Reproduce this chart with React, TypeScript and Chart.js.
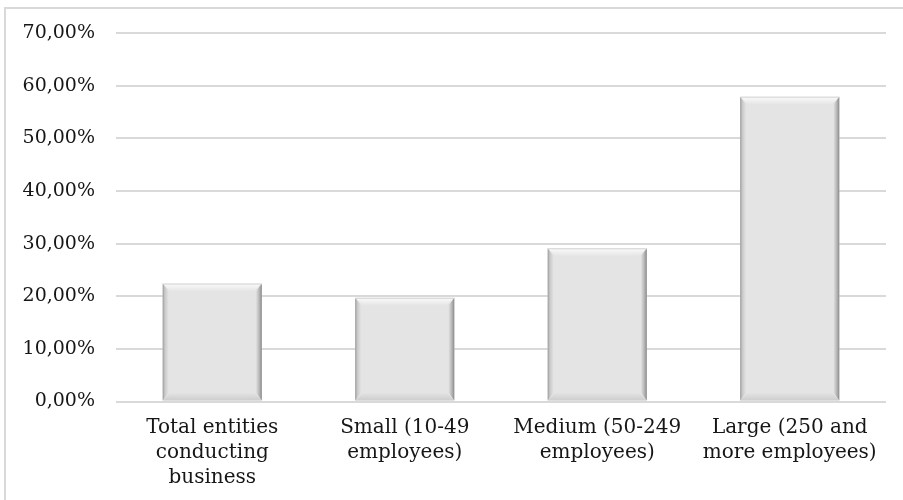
import React, { useEffect, useRef } from "react";
import { Chart, registerables } from "chart.js";

Chart.register(...registerables);

const categories: string[][] = [
  ["Total entities", "conducting", "business"],
  ["Small (10-49", "employees)"],
  ["Medium (50-249", "employees)"],
  ["Large (250 and", "more employees)"],
];
const shares: number[] = [22.4, 19.7, 29.1, 57.9];
const yTickValues: number[] = [0, 10, 20, 30, 40, 50, 60, 70];

const FONT = "'DejaVu Serif', serif";
const BASE = "#e4e4e4";
const TEXT = "#161616";

// White background plus the light frame along the left and top edges.
const framePlugin = {
  id: "frame",
  beforeDraw(chart: any) {
    const ctx: CanvasRenderingContext2D = chart.ctx;
    ctx.save();
    ctx.fillStyle = "#ffffff";
    ctx.fillRect(0, 0, chart.width, chart.height);
    ctx.strokeStyle = "#d9d9d9";
    ctx.lineWidth = 2;
    ctx.beginPath();
    ctx.moveTo(5, chart.height);
    ctx.lineTo(5, 8);
    ctx.lineTo(chart.width, 8);
    ctx.stroke();
    ctx.restore();
  },
};

// Paints a soft bevel over every bar: light top, shaded bottom and darker sides.
const bevelPlugin = {
  id: "bevel",
  afterDatasetsDraw(chart: any) {
    const ctx: CanvasRenderingContext2D = chart.ctx;
    const meta = chart.getDatasetMeta(0);
    meta.data.forEach((bar: any) => {
      const { x, y, base, width } = bar.getProps(["x", "y", "base", "width"], true);
      const l = x - width / 2;
      const r = x + width / 2;
      const t = Math.min(y, base);
      const b = Math.max(y, base);
      const s = 8;
      const side = 6;
      ctx.save();

      // top facet
      let g = ctx.createLinearGradient(0, t, 0, t + s);
      g.addColorStop(0, "#fbfbfb");
      g.addColorStop(1, BASE);
      ctx.fillStyle = g;
      ctx.beginPath();
      ctx.moveTo(l, t);
      ctx.lineTo(r, t);
      ctx.lineTo(r - s, t + s);
      ctx.lineTo(l + s, t + s);
      ctx.closePath();
      ctx.fill();

      // bottom facet
      g = ctx.createLinearGradient(0, b - s, 0, b);
      g.addColorStop(0, BASE);
      g.addColorStop(1, "#cdcdcd");
      ctx.fillStyle = g;
      ctx.beginPath();
      ctx.moveTo(l, b);
      ctx.lineTo(r, b);
      ctx.lineTo(r - s, b - s);
      ctx.lineTo(l + s, b - s);
      ctx.closePath();
      ctx.fill();

      // left facet
      g = ctx.createLinearGradient(l, 0, l + side, 0);
      g.addColorStop(0, "#9a9a9a");
      g.addColorStop(0.35, "#c8c8c8");
      g.addColorStop(1, BASE);
      ctx.fillStyle = g;
      ctx.beginPath();
      ctx.moveTo(l, t);
      ctx.lineTo(l + side, t + s);
      ctx.lineTo(l + side, b - s);
      ctx.lineTo(l, b);
      ctx.closePath();
      ctx.fill();

      // right facet
      g = ctx.createLinearGradient(r - side, 0, r, 0);
      g.addColorStop(0, BASE);
      g.addColorStop(0.6, "#b4b4b4");
      g.addColorStop(1, "#8a8a8a");
      ctx.fillStyle = g;
      ctx.beginPath();
      ctx.moveTo(r, t);
      ctx.lineTo(r - side, t + s);
      ctx.lineTo(r - side, b - s);
      ctx.lineTo(r, b);
      ctx.closePath();
      ctx.fill();

      // faint outline along the top edge
      ctx.strokeStyle = "#d2d2d2";
      ctx.lineWidth = 1;
      ctx.beginPath();
      ctx.moveTo(l, t + 0.5);
      ctx.lineTo(r, t + 0.5);
      ctx.stroke();

      ctx.restore();
    });
  },
};

export default function App() {
  const canvasRef = useRef<HTMLCanvasElement | null>(null);

  useEffect(() => {
    if (!canvasRef.current) return;
    const chart = new Chart(canvasRef.current, {
      type: "bar",
      data: {
        labels: categories,
        datasets: [
          {
            data: shares,
            backgroundColor: BASE,
            borderWidth: 0,
            categoryPercentage: 1,
            barPercentage: 0.515,
          },
        ],
      },
      options: {
        responsive: false,
        animation: false,
        devicePixelRatio: 1,
        layout: { padding: { left: 0, right: 17, top: 33, bottom: 0 } },
        plugins: {
          legend: { display: false },
          tooltip: { enabled: false },
        },
        scales: {
          x: {
            grid: { display: false, drawTicks: false },
            border: { display: false },
            ticks: {
              padding: 14,
              color: TEXT,
              maxRotation: 0,
              autoSkip: false,
              font: { family: FONT, size: 20, lineHeight: "25px" },
            },
            afterFit(scale: any) {
              scale.height = 98.5;
            },
          },
          y: {
            min: 0,
            max: 70,
            afterBuildTicks(scale: any) {
              scale.ticks = yTickValues.map((v) => ({ value: v }));
            },
            grid: { color: "#d9d9d9", lineWidth: 2, drawTicks: false },
            border: { display: false },
            ticks: {
              padding: 21,
              color: TEXT,
              font: { family: FONT, size: 19 },
              callback: (v: any) => Number(v).toFixed(2).replace(".", ",") + "%",
            },
            afterFit(scale: any) {
              scale.width = 116;
            },
          },
        },
      },
      plugins: [framePlugin, bevelPlugin],
    });
    return () => chart.destroy();
  }, []);

  return (
    <canvas
      ref={canvasRef}
      width={903}
      height={500}
      style={{ position: "fixed", left: 0, top: 0, width: 903, height: 500 }}
    />
  );
}
